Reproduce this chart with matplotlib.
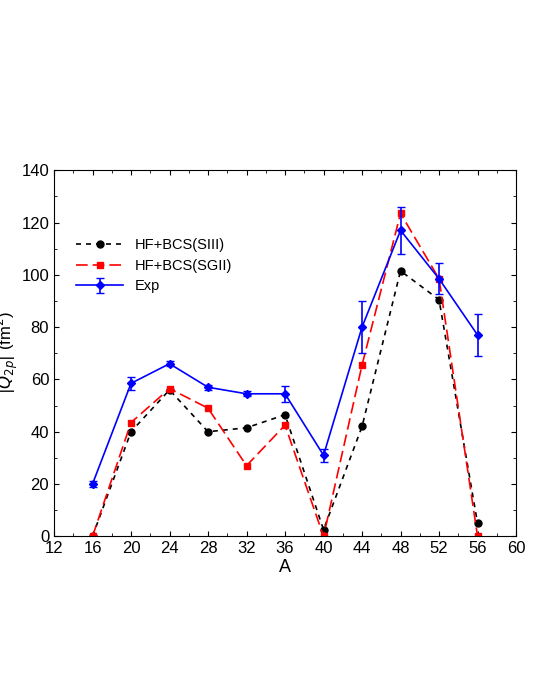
import matplotlib
matplotlib.use("Agg")
import matplotlib.pyplot as plt
plt.rcParams['font.family'] = ['Liberation Sans', 'DejaVu Sans']

A = [16, 20, 24, 28, 32, 36, 40, 44, 48, 52, 56]
siii = [0, 40, 56, 40, 41.5, 46.5, 2.5, 42, 101.5, 90.5, 5]
sgii = [0, 43.5, 56.5, 49, 27, 42.5, 0, 65.5, 123.5, 98.5, 0]
exp = [20, 58.5, 66, 57, 54.5, 54.5, 31, 80, 117, 98.5, 77]
exp_err = [1, 2.5, 1, 1, 1, 3, 2.5, 10, 9, 6, 8]

fig = plt.figure(figsize=(5.54, 6.92), dpi=100)
ax = fig.add_axes([0.0975, 0.225, 0.834, 0.529])
ax.plot(A, siii, 'k--', marker='o', ms=5, lw=1.2, dashes=(3, 3), label='HF+BCS(SIII)')
ax.plot(A, sgii, '--', color='red', marker='s', ms=4.5, lw=1.2, dashes=(7, 3), label='HF+BCS(SGII)')
ax.errorbar(A, exp, yerr=exp_err, color='blue', marker='D', ms=4, lw=1.2, capsize=3, label='Exp')
ax.set_xlim(12, 60)
ax.set_ylim(0, 140)
ax.set_xticks(range(12, 61, 4))
ax.set_yticks(range(0, 141, 20))
ax.set_xticks(range(14, 60, 4), minor=True)
ax.set_yticks(range(10, 140, 20), minor=True)
ax.tick_params(which='both', direction='in', top=True, right=True, labelsize=12)
ax.set_xlabel('A', fontsize=13, labelpad=2)
fig.text(0.012, 0.49, r'$|Q_{2p}|$ (fm$^2$)', rotation=90, ha='center', va='center', fontsize=12)
ax.legend(loc='upper left', bbox_to_anchor=(0.02, 0.85), frameon=False, fontsize=10.5,
          handlelength=3.2, labelspacing=0.45)
fig.savefig('out.png', dpi=100)
